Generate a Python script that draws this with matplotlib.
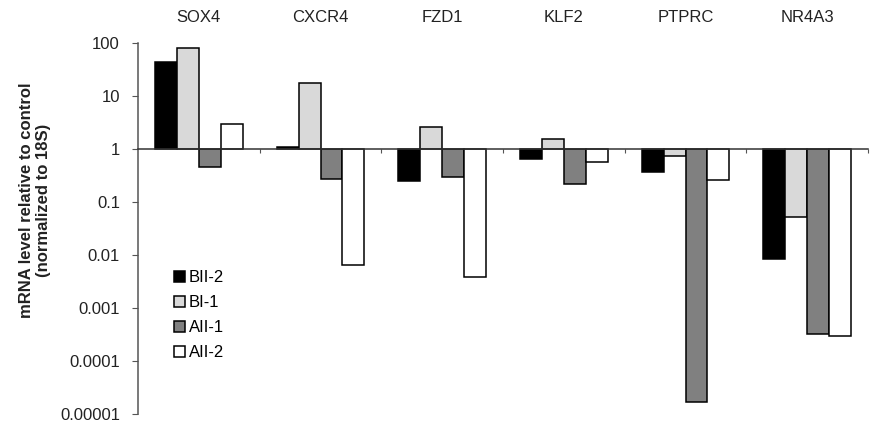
import numpy as np
from matplotlib import pyplot as plt

genes = ['SOX4', 'CXCR4', 'FZD1', 'KLF2', 'PTPRC', 'NR4A3']
series = ['BII-2', 'BI-1', 'AII-1', 'AII-2']
bii_2 = [44, 1.1, 0.245, 0.65, 0.375, 0.0085]
bi_1 = [81, 17.4, 2.55, 1.53, 0.74, 0.053]
aii_1 = [0.46, 0.27, 0.30, 0.215, 0.000017, 0.00033]
aii_2 = [3.0, 0.0066, 0.0039, 0.57, 0.26, 0.00029]
yticks = [100, 10, 1, 0.1, 0.01, 0.001, 0.0001, 0.00001]
ytick_labels = ['100', '10', '1', '0.1', '0.01', '0.001', '0.0001', '0.00001']

colors = ['black', '#d9d9d9', '#808080', 'white']

plt.rcParams['font.family'] = ['Liberation Sans', 'DejaVu Sans']

fig = plt.figure(figsize=(8.71, 4.22), dpi=100)
ax = fig.add_axes([138 / 871, 8 / 422, 730 / 871, 371 / 422])

x = np.arange(len(genes)) + 0.5
width = 0.18
for i, (name, vals) in enumerate(zip(series, [bii_2, bi_1, aii_1, aii_2])):
    vals = np.array(vals)
    ax.bar(x + (i - 1.5) * width, vals - 1, bottom=1, width=width,
           color=colors[i], edgecolor='black', linewidth=1.1, label=name)

ax.set_yscale('log')
ax.set_ylim(0.00001, 100)
ax.set_xlim(0, len(genes))
ax.set_yticks(yticks)
ax.set_yticklabels(ytick_labels)
ax.minorticks_off()

ax.spines['top'].set_visible(False)
ax.spines['right'].set_visible(False)
ax.spines['bottom'].set_position(('data', 1))
ax.spines['bottom'].set_color('#333333')
ax.spines['left'].set_color('#555555')
ax.spines['bottom'].set_linewidth(1.1)
ax.spines['left'].set_linewidth(1.1)
ax.set_xticks(np.arange(1, len(genes) + 1))
ax.set_xticklabels([])
ax.tick_params(axis='x', direction='out', length=3, color='#555555')
ax.tick_params(axis='y', direction='out', length=4, color='#555555',
               labelsize=12, pad=9, labelcolor='#222222')
ax.set_zorder(1)

for xi, g in zip(x, genes):
    fig.text((138 + xi * 730 / 6) / 871, 1 - 18 / 422, g, ha='center', va='center',
             fontsize=12, color='#222222')

fig.text(35 / 871, 1 - 200 / 422, 'mRNA level relative to control\n(normalized to 18S)',
         rotation=90, ha='center', va='center', fontsize=12, fontweight='bold',
         linespacing=1.1, color='#222222')

ax.legend(loc='upper left', bbox_to_anchor=(166 / 871, 1 - 262 / 422),
          bbox_transform=fig.transFigure, frameon=False, fontsize=12,
          handlelength=0.65, handleheight=0.65, handletextpad=0.2,
          labelspacing=0.6, borderpad=0)

fig.savefig('out.png', dpi=100)
